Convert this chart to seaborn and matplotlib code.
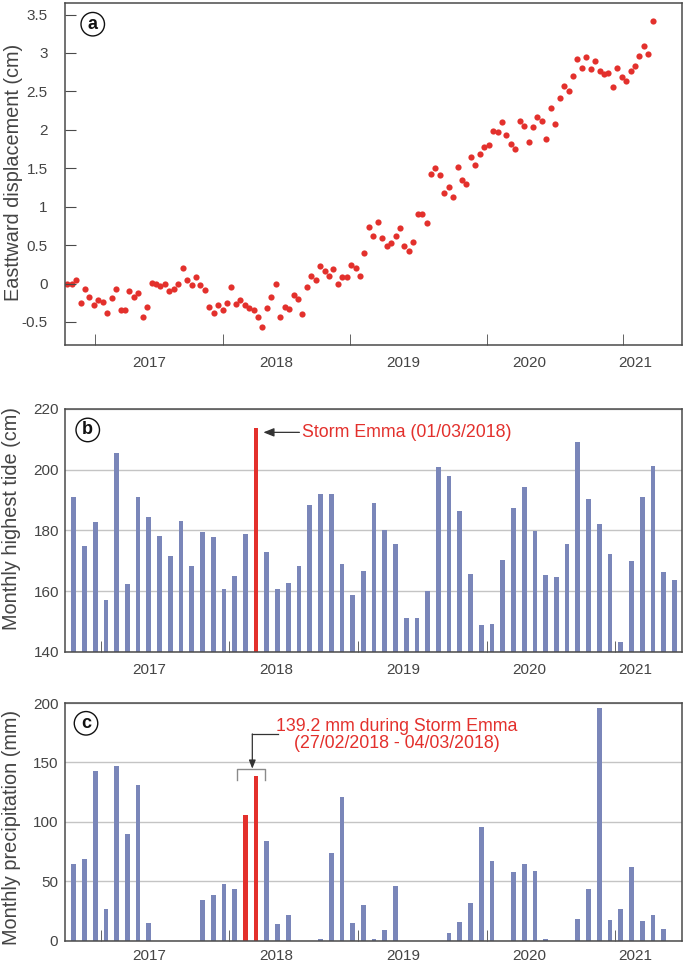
import matplotlib
matplotlib.use("Agg")
import matplotlib.pyplot as plt
import seaborn as sns
import pandas as pd

# (a) eastward displacement, one value per 12-day acquisition (cm)
east_disp = [
    0.00, -0.01, 0.04, -0.25, -0.07, -0.17, -0.28, -0.21, -0.24, -0.39,
    -0.19, -0.07, -0.35, -0.35, -0.10, -0.17, -0.12, -0.43, -0.30, 0.01,
    -0.01, -0.03, -0.01, -0.10, -0.07, 0.00, 0.20, 0.04, -0.02, 0.08,
    -0.02, -0.09, -0.30, -0.39, -0.28, -0.34, -0.25, -0.04, -0.27, -0.21,
    -0.28, -0.32, -0.34, -0.44, -0.56, -0.32, -0.17, -0.01, -0.44, -0.30,
    -0.33, -0.15, -0.20, -0.40, -0.05, 0.10, 0.04, 0.23, 0.16, 0.10,
    0.19, 0.00, 0.09, 0.08, 0.24, 0.20, 0.10, 0.40, 0.74, 0.62,
    0.80, 0.59, 0.49, 0.53, 0.62, 0.72, 0.49, 0.42, 0.54, 0.90,
    0.91, 0.79, 1.43, 1.50, 1.41, 1.18, 1.26, 1.12, 1.52, 1.35,
    1.29, 1.64, 1.54, 1.69, 1.77, 1.80, 1.99, 1.97, 2.10, 1.93,
    1.81, 1.75, 2.11, 2.05, 1.84, 2.04, 2.17, 2.11, 1.88, 2.29,
    2.07, 2.41, 2.57, 2.51, 2.70, 2.92, 2.81, 2.95, 2.79, 2.89,
    2.77, 2.72, 2.74, 2.56, 2.81, 2.69, 2.63, 2.76, 2.83, 2.96,
    3.09, 2.98, 3.42,
]

# (b), (c) monthly series, Oct 2016 - Jun 2021
months = [str(p) for p in pd.period_range("2016-10", "2021-06", freq="M")]
tide_max = [
    191.1, 175.0, 182.8, 157.2, 205.5, 162.3, 190.9, 184.3, 178.1, 171.6,
    183.2, 168.2, 179.6, 178.0, 160.6, 165.0, 178.8, 213.7, 172.9, 160.7,
    162.6, 168.3, 188.4, 192.1, 191.9, 169.0, 158.7, 166.6, 189.2, 180.2,
    175.5, 151.1, 151.1, 160.2, 200.8, 197.9, 186.3, 165.7, 148.9, 149.2,
    170.3, 187.3, 194.4, 179.9, 165.2, 164.7, 175.5, 209.0, 190.4, 182.2,
    172.3, 143.4, 170.0, 190.9, 201.1, 166.3, 163.7,
]
precip = [
    65.0, 68.9, 143.1, 26.6, 147.1, 89.9, 131.1, 15.4, 0.0, 0.0,
    0.0, 0.0, 34.2, 38.9, 47.9, 44.0, 105.6, 138.4, 84.0, 14.3,
    21.8, 0.0, 0.0, 1.4, 74.2, 121.3, 15.4, 30.0, 1.4, 9.2,
    46.0, 0.0, 0.0, 0.0, 0.0, 6.4, 16.0, 31.7, 96.1, 67.5,
    0.0, 58.0, 65.0, 58.8, 1.4, 0.0, 0.0, 18.5, 43.4, 195.5,
    17.6, 26.6, 61.9, 17.1, 21.6, 9.8, 0.0,
]
storm_tide = ["2018-03"]
storm_rain = ["2018-02", "2018-03"]
years = ["2017", "2018", "2019", "2020", "2021"]

blue = "#7a86b9"
red = "#e3302c"
txt = "#444444"

plt.rcParams["font.family"] = ["Liberation Sans", "DejaVu Sans"]
plt.rcParams["axes.edgecolor"] = "#4a4a4a"
plt.rcParams["axes.linewidth"] = 1.1

fig = plt.figure(figsize=(6.85, 9.65), dpi=100)
ax_a = fig.add_axes([0.0942, 0.6425, 0.9015, 0.3544])
ax_b = fig.add_axes([0.0942, 0.3244, 0.9015, 0.2518])
ax_c = fig.add_axes([0.0942, 0.0249, 0.9015, 0.2466])

# ---- (a) displacement
df_a = pd.DataFrame({"epoch": range(len(east_disp)), "disp": east_disp})
sns.scatterplot(data=df_a, x="epoch", y="disp", ax=ax_a, color=red,
                s=20, linewidth=0)
ax_a.set_xlim(-0.63, 138.6)
ax_a.set_ylim(-0.80, 3.65)
ax_a.set_yticks([-0.5, 0, 0.5, 1, 1.5, 2, 2.5, 3, 3.5])
ax_a.set_yticklabels(["-0.5", "0", "0.5", "1", "1.5", "2", "2.5", "3", "3.5"])
ax_a.set_xticks([6.18, 35.17, 63.74, 94.57, 125.23], minor=True)
ax_a.set_xticks([18.42, 47.13, 75.65, 104.17, 127.94])
ax_a.set_xticklabels(years)
ax_a.tick_params(axis="y", direction="in", length=8, pad=12, labelsize=11,
                 labelcolor=txt, color="#4a4a4a")
ax_a.tick_params(axis="x", which="major", length=0, pad=8, labelsize=11,
                 labelcolor=txt)
ax_a.tick_params(axis="x", which="minor", direction="in", length=8,
                 color="#4a4a4a")
ax_a.set_xlabel("")
ax_a.set_ylabel("Easttward displacement (cm)", fontsize=14.3, color=txt)
ax_a.yaxis.set_label_coords(-0.068, 0.504)


def monthly_bars(ax, values, storm):
    df = pd.DataFrame({"month": months, "value": values})
    df["storm"] = df["month"].isin(storm)
    sns.barplot(data=df, x="month", y="value", hue="storm",
                palette={False: blue, True: red}, dodge=False, width=0.44,
                saturation=1, errorbar=None, legend=False, ax=ax)
    ax.set_xlim(-0.86, 56.72)
    jan = [months.index(y + "-01") - 0.5 for y in years]
    ax.set_xticks(jan, minor=True)
    ax.set_xticks([7.02, 18.89, 30.69, 42.48, 52.31])
    ax.set_xticklabels(years)
    ax.tick_params(axis="x", which="minor", direction="in", length=8,
                   color="#4a4a4a")
    ax.tick_params(axis="x", which="major", length=0, labelsize=11,
                   labelcolor=txt)
    ax.tick_params(axis="y", length=0, labelsize=11, labelcolor=txt)
    ax.grid(axis="y", color="#c4c4c4", lw=1.0)
    ax.set_axisbelow(True)
    ax.set_xlabel("")


# ---- (b) tide
monthly_bars(ax_b, tide_max, storm_tide)
ax_b.set_ylim(140, 220)
ax_b.set_yticks([140, 160, 180, 200, 220])
ax_b.tick_params(axis="y", pad=4)
ax_b.tick_params(axis="x", which="major", pad=8)
ax_b.set_ylabel("Monthly highest tide (cm)", fontsize=14.3, color=txt)
ax_b.yaxis.set_label_coords(-0.07, 0.551)
ax_b.annotate("Storm Emma (01/03/2018)", xy=(17.68, 212.3),
              xytext=(21.3, 212.3), ha="left", va="center", fontsize=12.8,
              color=red,
              arrowprops=dict(arrowstyle="-|>,head_length=0.5,head_width=0.2",
                              color="#333333", lw=0.9, shrinkA=0, shrinkB=0))

# ---- (c) precipitation
monthly_bars(ax_c, precip, storm_rain)
ax_c.set_ylim(0, 200)
ax_c.set_yticks([0, 50, 100, 150, 200])
ax_c.tick_params(axis="y", pad=4.5)
ax_c.tick_params(axis="x", which="major", pad=5.5)
ax_c.set_ylabel("Monthly precipitation (mm)", fontsize=14.3, color=txt)
ax_c.yaxis.set_label_coords(-0.07, 0.475)
ax_c.text(30.15, 173.1, "139.2 mm during Storm Emma\n(27/02/2018 - 04/03/2018)",
          ha="center", va="center", fontsize=12.8, color=red, linespacing=1.0)
ax_c.plot([15.2, 15.2, 17.84, 17.84], [135.3, 144.3, 144.3, 135.3],
          color="#8a8a8a", lw=1.0)
ax_c.plot([16.65, 19.05], [174, 174], color="#333333", lw=0.9)
ax_c.annotate("", xy=(16.65, 144.8), xytext=(16.65, 174),
              arrowprops=dict(arrowstyle="-|>,head_length=0.5,head_width=0.2",
                              color="#333333", lw=0.9, shrinkA=0, shrinkB=0))

# panel letters
for ax, letter, px, py in [(ax_a, "a", 0.0457, 0.938),
                           (ax_b, "b", 0.0376, 0.9136),
                           (ax_c, "c", 0.0348, 0.9147)]:
    ax.text(px, py, letter, transform=ax.transAxes, ha="center", va="center",
            fontsize=13, fontweight="bold", color="#111111",
            bbox=dict(boxstyle="circle,pad=0.18", fc="white", ec="#111111",
                      lw=1.0))

fig.savefig("out.png", dpi=100)
